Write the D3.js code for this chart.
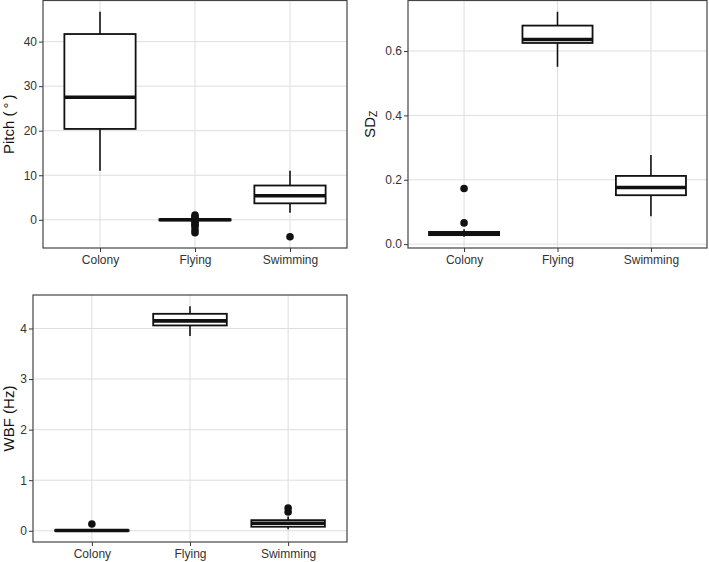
<!DOCTYPE html>
<html>
<head>
<meta charset="utf-8">
<script src="https://cdn.jsdelivr.net/npm/d3@7"></script>
<style>
  html, body { margin: 0; padding: 0; background: #fff; }
  svg { display: block; font-family: "Liberation Sans", Arial, sans-serif; }
</style>
</head>
<body>
<svg id="chart" width="709" height="562"></svg>
<script>
// ---- data ----
const categories = ["Colony", "Flying", "Swimming"];

// each box: [lowerWhisker, Q1, median, Q3, upperWhisker]
const pitchBoxes = [
  [11.0, 20.4, 27.5, 41.7, 46.7],
  [-0.3, -0.12, 0.0, 0.12, 0.35],
  [1.6, 3.7, 5.4, 7.7, 11.0]
];
const pitchOutliers = [
  [],
  [1.05, 0.7, 0.35, -0.3, -0.7, -1.1, -1.5, -2.3, -2.9],
  [-3.8]
];
const pitchTicks = [0, 10, 20, 30, 40];

const sdzBoxes = [
  [0.023, 0.028, 0.033, 0.038, 0.046],
  [0.551, 0.625, 0.636, 0.679, 0.722],
  [0.087, 0.152, 0.176, 0.212, 0.277]
];
const sdzOutliers = [
  [0.173, 0.066],
  [],
  [],
];
const sdzTicks = [0.0, 0.2, 0.4, 0.6];

const wbfBoxes = [
  [0.0, 0.0, 0.005, 0.01, 0.02],
  [3.85, 4.06, 4.15, 4.29, 4.44],
  [0.03, 0.08, 0.15, 0.21, 0.28]
];
const wbfOutliers = [
  [0.135],
  [],
  [0.37, 0.45]
];
const wbfTicks = [0, 1, 2, 3, 4];

// ---- drawing ----
const svg = d3.select("#chart");

function panel(opts) {
  const { x0, x1, y0, y1, boxes, outliers, ticks, fmt, title, titleX } = opts;
  const g = svg.append("g");

  // y domain: data range expanded by 5% (ggplot default)
  const allVals = boxes.flat().concat(outliers.flat());
  const lo = d3.min(allVals), hi = d3.max(allVals);
  const pad = (hi - lo) * 0.05;
  const y = d3.scaleLinear().domain([lo - pad, hi + pad]).range([y1, y0]);
  const x = d3.scalePoint().domain(categories).range([x0, x1]).padding(0.6);
  const bw = x.step() * 0.75;

  // grid
  g.append("g").selectAll("line.h").data(ticks).join("line")
    .attr("x1", x0).attr("x2", x1)
    .attr("y1", d => y(d)).attr("y2", d => y(d))
    .attr("stroke", "#dedede").attr("stroke-width", 1);
  g.append("g").selectAll("line.v").data(categories).join("line")
    .attr("x1", d => x(d)).attr("x2", d => x(d))
    .attr("y1", y0).attr("y2", y1)
    .attr("stroke", "#dedede").attr("stroke-width", 1);

  // axes
  const yAxis = d3.axisLeft(y).tickValues(ticks).tickFormat(fmt).tickSize(4).tickPadding(2);
  const ya = g.append("g").attr("transform", `translate(${x0},0)`).call(yAxis);
  const xAxis = d3.axisBottom(x).tickSize(4).tickPadding(3);
  const xa = g.append("g").attr("transform", `translate(0,${y1})`).call(xAxis);
  [ya, xa].forEach(a => {
    a.select(".domain").remove();
    a.selectAll(".tick line").attr("stroke", "#333");
    a.selectAll(".tick text").attr("fill", "#333")
      .style("font-size", "12px").style("font-family", "'Liberation Sans', Arial, sans-serif");
  });

  // boxes
  const bg = g.append("g").selectAll("g").data(boxes).join("g");
  // whiskers
  bg.append("line")
    .attr("x1", (d, i) => x(categories[i])).attr("x2", (d, i) => x(categories[i]))
    .attr("y1", d => y(d[4])).attr("y2", d => y(d[3]))
    .attr("stroke", "#111").attr("stroke-width", 1.6);
  bg.append("line")
    .attr("x1", (d, i) => x(categories[i])).attr("x2", (d, i) => x(categories[i]))
    .attr("y1", d => y(d[1])).attr("y2", d => y(d[0]))
    .attr("stroke", "#111").attr("stroke-width", 1.6);
  bg.append("rect")
    .attr("x", (d, i) => x(categories[i]) - bw / 2)
    .attr("width", bw)
    .attr("y", d => y(d[3]))
    .attr("height", d => Math.max(0, y(d[1]) - y(d[3])))
    .attr("fill", "#fff").attr("stroke", "#111").attr("stroke-width", 1.8);
  bg.append("line")
    .attr("x1", (d, i) => x(categories[i]) - bw / 2).attr("x2", (d, i) => x(categories[i]) + bw / 2)
    .attr("y1", d => y(d[2])).attr("y2", d => y(d[2]))
    .attr("stroke", "#111").attr("stroke-width", 3.6);

  // outliers
  const og = g.append("g");
  outliers.forEach((arr, i) => {
    og.selectAll(null).data(arr).join("circle")
      .attr("cx", x(categories[i])).attr("cy", d => y(d))
      .attr("r", 3.8).attr("fill", "#111");
  });

  // panel border
  g.append("rect").attr("x", x0).attr("y", y0)
    .attr("width", x1 - x0).attr("height", y1 - y0)
    .attr("fill", "none").attr("stroke", "#444").attr("stroke-width", 1.2);

  // axis title
  const t = g.append("text")
    .attr("transform", `translate(${titleX},${(y0 + y1) / 2}) rotate(-90)`)
    .attr("text-anchor", "middle")
    .attr("dominant-baseline", "central")
    .style("font-size", "15px").attr("fill", "#111");
  title(t);
}

panel({
  x0: 43, x1: 347, y0: 0.5, y1: 248,
  boxes: pitchBoxes, outliers: pitchOutliers, ticks: pitchTicks,
  fmt: d3.format("d"), titleX: 8,
  title: t => t.text("Pitch (\u2009\u00B0\u2009)")
});

panel({
  x0: 408, x1: 707, y0: 0.5, y1: 248,
  boxes: sdzBoxes, outliers: sdzOutliers, ticks: sdzTicks,
  fmt: d3.format(".1f"), titleX: 369,
  title: t => {
    t.append("tspan").text("SD");
    t.append("tspan").text("Z").style("font-size", "10.5px").attr("dy", "0.35em");
  }
});

panel({
  x0: 33, x1: 347, y0: 295, y1: 542,
  boxes: wbfBoxes, outliers: wbfOutliers, ticks: wbfTicks,
  fmt: d3.format("d"), titleX: 8,
  title: t => t.text("WBF (Hz)")
});
</script>
</body>
</html>
